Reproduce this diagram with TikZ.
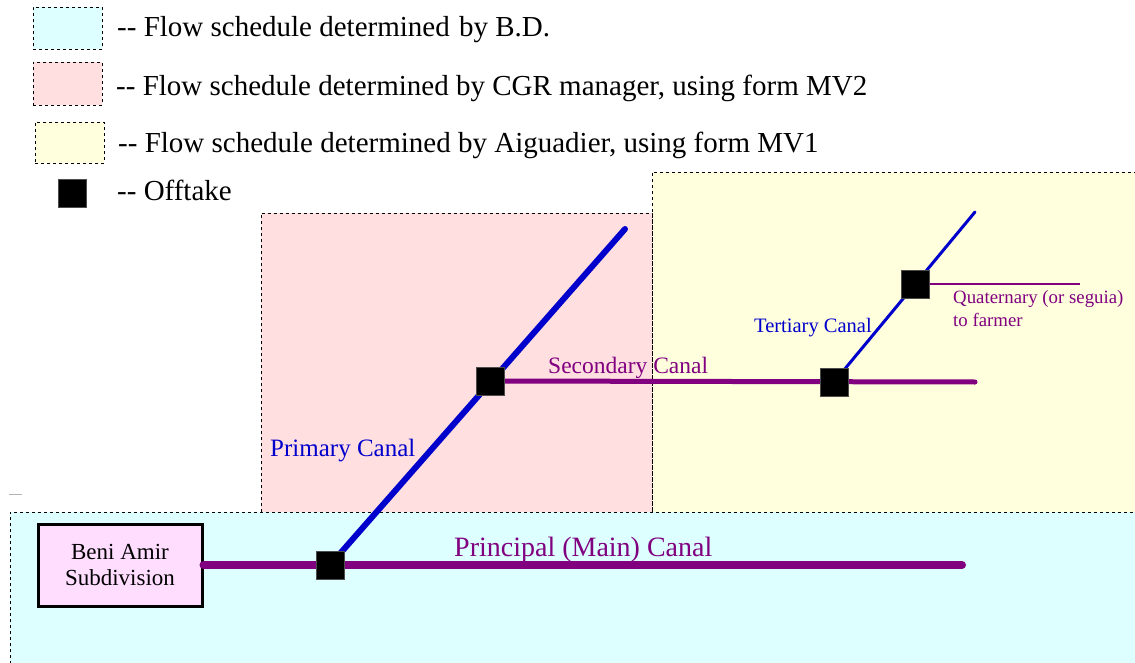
\documentclass[tikz,border=0pt]{standalone}
\usepackage{fontspec}
\setmainfont{Liberation Serif}
\definecolor{cyanfill}{HTML}{DDFFFF}
\definecolor{pinkfill}{HTML}{FFDFE0}
\definecolor{yellowfill}{HTML}{FFFFDD}
\definecolor{boxfill}{HTML}{FFDDFF}
\definecolor{canalpurple}{HTML}{800080}
\definecolor{canalblue}{HTML}{0000CC}
\tikzset{
  zone/.style={draw=black, dash pattern=on 3pt off 3pt, line width=0.8pt},
  offtake/.style={fill=black, draw=black!70, minimum size=28pt, inner sep=0pt, outer sep=0pt},
  legtext/.style={anchor=base west, inner sep=0pt, font=\fontsize{29}{33}\selectfont},
  canallabel/.style={anchor=base west, inner sep=0pt},
  purplecanal/.style={draw=canalpurple, line cap=round},
  bluecanal/.style={draw=canalblue, line cap=round},
}
\begin{document}
\begin{tikzpicture}[x=1pt,y=-1pt]
\useasboundingbox (0,0) rectangle (1135,663);
% zones
\fill[yellowfill] (652,172) rectangle (1140,512);
\draw[zone] (652,512) -- (652,172) -- (1140,172);
\fill[pinkfill] (261,213) rectangle (652,512);
\draw[zone] (261,512) -- (261,213) -- (652,213) -- (652,512);
\fill[cyanfill] (10,512) rectangle (1140,670);
\draw[zone] (10,670) -- (10,512) -- (1140,512);
\draw[black!30, line width=0.8pt] (9,494) -- (22,494);
% legend
\node[zone, fill=cyanfill, minimum width=69pt, minimum height=42pt, inner sep=0pt] (l1) at (67.5,28) {};
\node[zone, fill=pinkfill, minimum width=69pt, minimum height=43pt, inner sep=0pt] (l2) at (67.5,83.5) {};
\node[zone, fill=yellowfill, minimum width=69pt, minimum height=41pt, inner sep=0pt] (l3) at (69.5,142.5) {};
\node[offtake] (l4) at (72.5,193) {};
\node[legtext] (t1) at (117,37) {-{}- Flow schedule determined \kern2pt by B.D.};
\node[legtext] (t2) at (116,96) {-{}- Flow schedule determined by CGR manager, using form MV2};
\node[legtext] (t3) at (118,153) {-{}- Flow schedule determined by Aiguadier, using form MV1};
\node[legtext] (t4) at (117,201) {-{}- Offtake};
% subdivision box
\node[draw=black, line width=3pt, fill=boxfill, minimum width=164pt, minimum height=82pt, inner sep=0pt, align=center, font=\fontsize{23}{26}\selectfont] (bam) at (120,565) {Beni Amir\\Subdivision};
% canal points
\coordinate (c1) at (330,565);
\coordinate (c2) at (490,381);
\coordinate (c3) at (834,382);
\coordinate (c4) at (915,284);
\coordinate (pend) at (962,565);
\coordinate (ptop) at (625,229);
\coordinate (send) at (975,382);
\coordinate (ttop) at (975,212);
\coordinate (qend) at (1080,284);
% canals
\draw[purplecanal, line width=8pt] (bam.east) -- (pend);
\draw[bluecanal, line width=6pt] (c1) -- (ptop);
\draw[purplecanal, line width=5pt] (c2) -- (send);
\draw[bluecanal, line width=3pt] (c3) -- (ttop);
\draw[canalpurple, line width=1.5pt] (c4) -- (qend);
% offtakes
\node[offtake] (o1) at (c1) {};
\node[offtake] (o2) at (c2) {};
\node[offtake] (o3) at (c3) {};
\node[offtake] (o4) at (c4) {};
% labels
\node[canallabel, text=canalpurple, font=\fontsize{28}{32}\selectfont] (lp) at (454,556) {Principal (Main) Canal};
\node[canallabel, text=canalblue, font=\fontsize{25}{29}\selectfont] (lpr) at (270,456) {Primary Canal};
\node[canallabel, text=canalpurple, font=\fontsize{23.5}{27}\selectfont] (ls) at (548,373) {Secondary Canal};
\node[canallabel, text=canalblue, font=\fontsize{20.5}{24}\selectfont] (lt) at (754,332) {Tertiary Canal};
\node[canallabel, text=canalpurple, font=\fontsize{18.8}{22}\selectfont] (lq1) at (953,303) {Quaternary (or seguia)};
\node[canallabel, text=canalpurple, font=\fontsize{18.8}{22}\selectfont] (lq2) at (953,326) {to farmer};
\end{tikzpicture}
\end{document}
